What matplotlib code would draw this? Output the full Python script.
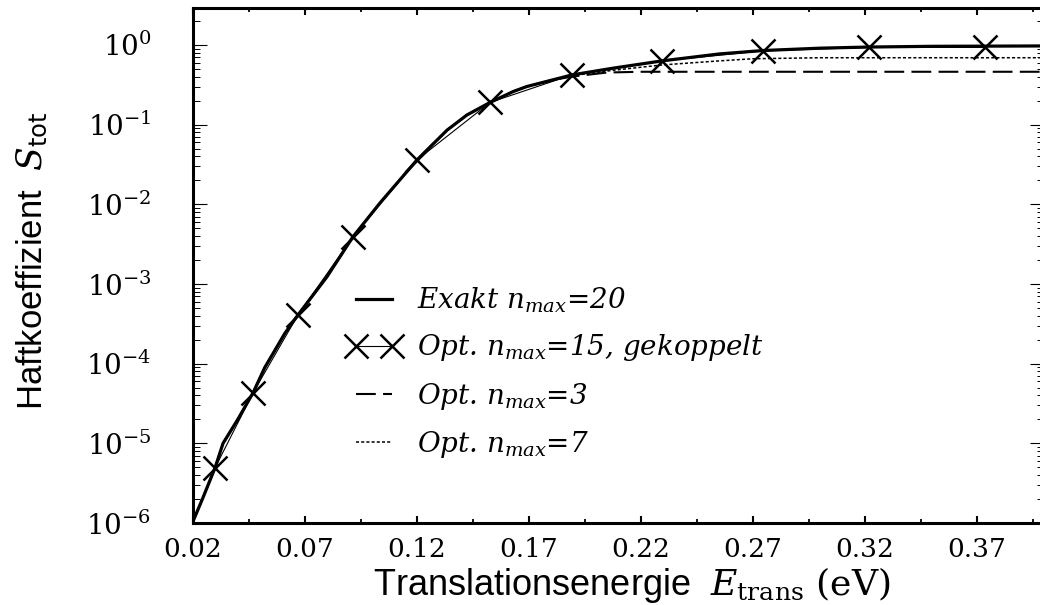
import matplotlib
matplotlib.use("Agg")
import matplotlib.pyplot as plt
from matplotlib.ticker import FixedLocator, LogLocator, NullFormatter

plt.rcParams['font.family'] = 'DejaVu Serif'
plt.rcParams['mathtext.fontset'] = 'dejavuserif'

# gemeinsamer Anstieg aller Rechnungen (bis ~0.17 eV identisch)
e_low = [0.020, 0.0245, 0.0298, 0.0334, 0.040, 0.0468, 0.052, 0.061, 0.0669,
         0.0798, 0.0914, 0.1035, 0.120, 0.1334, 0.1423, 0.1527, 0.163, 0.169]
s_low = [1.05e-6, 2.1e-6, 4.9e-6, 1.0e-5, 2.0e-5, 4.3e-5, 8.9e-5, 2.4e-4, 4.1e-4,
         1.23e-3, 3.9e-3, 1.04e-2, 3.6e-2, 8.5e-2, 0.132, 0.19, 0.26, 0.30]

# exakt, n_max = 20
e_exakt = e_low + [0.1892, 0.2075, 0.2294, 0.255, 0.2745, 0.300, 0.3218, 0.350, 0.400]
s_exakt = s_low + [0.42, 0.51, 0.63, 0.77, 0.85, 0.91, 0.94, 0.96, 0.97]

# optimiert, n_max = 15, gekoppelt
e_n15 = [0.0298, 0.0468, 0.0669, 0.0914, 0.120, 0.1527, 0.1892, 0.2294, 0.2745, 0.3218, 0.3736]
s_n15 = [4.9e-6, 4.3e-5, 4.1e-4, 3.9e-3, 3.6e-2, 0.19, 0.42, 0.63, 0.84, 0.93, 0.93]

# optimiert, n_max = 3
e_n3 = e_low + [0.180, 0.1892, 0.2048, 0.220, 0.400]
s_n3 = s_low + [0.36, 0.40, 0.45, 0.46, 0.46]

# optimiert, n_max = 7
e_n7 = e_low + [0.1892, 0.2075, 0.2294, 0.255, 0.270, 0.300, 0.400]
s_n7 = s_low + [0.41, 0.48, 0.56, 0.63, 0.67, 0.69, 0.69]

xticks = [0.02, 0.07, 0.12, 0.17, 0.22, 0.27, 0.32, 0.37]
xtick_labels = ['0.02', '0.07', '0.12', '0.17', '0.22', '0.27', '0.32', '0.37']
yticks = [1e-6, 1e-5, 1e-4, 1e-3, 1e-2, 1e-1, 1e0]

fig = plt.figure(figsize=(10.4, 6.05), dpi=100)
ax = fig.add_axes([0.1856, 0.1355, 0.8183, 0.8512])

ax.plot(e_exakt, s_exakt, color='black', lw=2.3, label=r'Exakt $n_{max}$=20')
ax.plot(e_n15, s_n15, color='black', lw=0.8, marker='x', ms=17, mew=1.8,
        label=r'Opt. $n_{max}$=15, gekoppelt')
ax.plot(e_n3, s_n3, color='black', lw=1.5, dashes=(9.5, 3.5), label=r'Opt. $n_{max}$=3')
ax.plot(e_n7, s_n7, color='black', lw=1.1, dashes=(2, 1.4), label=r'Opt. $n_{max}$=7')

ax.set_yscale('log')
ax.set_xlim(0.02, 0.40)
ax.set_ylim(1e-6, 2.9)

ax.xaxis.set_major_locator(FixedLocator(xticks))
ax.set_xticklabels(xtick_labels)
ax.xaxis.set_minor_locator(FixedLocator([t + 0.025 for t in xticks]))
ax.yaxis.set_major_locator(FixedLocator(yticks))
ax.yaxis.set_minor_locator(LogLocator(base=10, subs=range(2, 10), numticks=20))
ax.yaxis.set_minor_formatter(NullFormatter())

for s in ax.spines.values():
    s.set_linewidth(2.2)

ax.tick_params(axis='x', which='major', direction='in', top=True, length=5, width=1.5,
               labelsize=19, pad=10)
ax.tick_params(axis='x', which='minor', direction='in', top=True, length=3, width=1.3)
ax.tick_params(axis='y', which='major', direction='in', right=True, length=10, width=0.8,
               labelsize=20, pad=30)
ax.tick_params(axis='y', which='minor', direction='in', right=True, length=5, width=0.7)

ax.set_xlabel(r'Translationsenergie  $E_{\mathrm{trans}}\ \mathrm{(eV)}$',
              fontsize=26, family='Liberation Sans')
ax.set_ylabel(r'Haftkoeffizient  $S_{\mathsf{tot}}$', fontsize=25, family='Liberation Sans')
ax.xaxis.set_label_coords(0.515, -0.082)
ax.yaxis.set_label_coords(-0.168, 0.51)

ax.legend(loc='upper left', bbox_to_anchor=(0.165, 0.488), frameon=False,
          prop={'family': 'DejaVu Serif', 'style': 'italic', 'size': 20},
          handlelength=1.9, handletextpad=0.6, labelspacing=0.62, borderpad=0,
          numpoints=2)

fig.savefig('out.png', dpi=100)
